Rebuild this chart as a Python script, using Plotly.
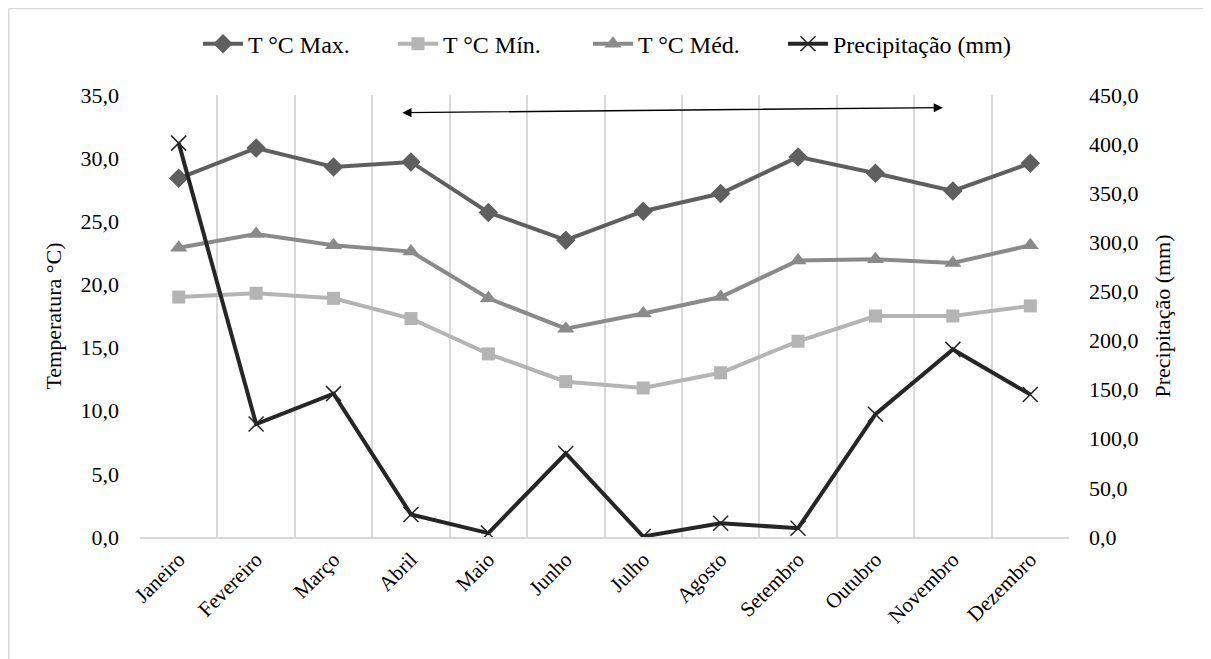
import plotly.graph_objects as go

meses = ["Janeiro", "Fevereiro", "Março", "Abril", "Maio", "Junho", "Julho",
         "Agosto", "Setembro", "Outubro", "Novembro", "Dezembro"]
t_max = [28.4, 30.8, 29.3, 29.7, 25.7, 23.5, 25.8, 27.2, 30.1, 28.8, 27.4, 29.6]
t_min = [19.0, 19.3, 18.9, 17.3, 14.5, 12.3, 11.8, 13.0, 15.5, 17.5, 17.5, 18.3]
t_med = [22.9, 24.0, 23.1, 22.6, 18.9, 16.5, 17.7, 19.0, 21.9, 22.0, 21.7, 23.1]
precip = [401.0, 115.0, 146.0, 23.0, 4.0, 85.0, 0.5, 14.0, 9.0, 125.0, 191.0, 145.0]

x = list(range(len(meses)))
font_family = "Liberation Serif, Times New Roman, serif"

W, H = 1203, 651
ML, MR, MT, MB = 132, 142, 87, 122
pw = W - ML - MR
ph = H - MT - MB

fig = go.Figure()
fig.add_trace(go.Scatter(x=x, y=t_max, name="T °C Max.", mode="lines+markers",
                         line=dict(color="#5f5f5f", width=4),
                         marker=dict(symbol="diamond", size=15, color="#5f5f5f")))
fig.add_trace(go.Scatter(x=x, y=t_min, name="T °C Mín.", mode="lines+markers",
                         line=dict(color="#b4b4b4", width=4),
                         marker=dict(symbol="square", size=13, color="#b4b4b4")))
fig.add_trace(go.Scatter(x=x, y=t_med, name="T °C Méd.", mode="lines+markers",
                         line=dict(color="#8a8a8a", width=4),
                         marker=dict(symbol="triangle-up", size=15, color="#8a8a8a")))
fig.add_trace(go.Scatter(x=x, y=precip, name="Precipitação (mm)", mode="lines+markers",
                         yaxis="y2", legend="legend2",
                         line=dict(color="#262626", width=4),
                         marker=dict(symbol="x-thin", size=15,
                                     line=dict(color="#262626", width=1.5))))

boundaries = [i - 0.5 for i in range(len(meses) + 1)]

legend_common = dict(orientation="h", yanchor="middle", y=1.115, xanchor="left",
                     font=dict(size=24), itemwidth=40, tracegroupgap=0,
                     bgcolor="rgba(0,0,0,0)")

fig.update_layout(
    width=W, height=H,
    margin=dict(l=ML, r=MR, t=MT, b=MB, autoexpand=False),
    paper_bgcolor="white", plot_bgcolor="white",
    separators=",.",
    font=dict(family=font_family, size=22, color="black"),
    showlegend=True,
    legend=dict(legend_common, x=(190 - ML) / pw, entrywidth=140,
                entrywidthmode="pixels"),
    legend2=dict(legend_common, x=(775 - ML) / pw),
    xaxis=dict(range=[-0.5, 11.5], tickmode="array", tickvals=x, ticktext=meses,
               tickangle=-45, showgrid=False, zeroline=False, automargin=False,
               showline=True, linecolor="#d9d9d9", linewidth=2,
               ticks="", tickfont=dict(size=21),
               minor=dict(tickmode="array", tickvals=boundaries, showgrid=True,
                          gridcolor="#d9d9d9", gridwidth=1.5, ticks="")),
    yaxis=dict(range=[0, 35], dtick=5, tick0=0, tickformat=".1f", automargin=False,
               showgrid=False, zeroline=False, showline=False, ticks="",
               ticklabelstandoff=20,
               title=dict(text="Temperatura °C)", standoff=12, font=dict(size=22))),
    yaxis2=dict(range=[0, 450], dtick=50, tick0=0, tickformat=".1f",
                overlaying="y", side="right", showgrid=False, zeroline=False,
                automargin=False,
                showline=False, ticks="", ticklabelstandoff=19,
                title=dict(text="Precipitação (mm)", standoff=17, font=dict(size=22))),
)

fig.add_annotation(x=9.87, y=34.0, ax=2.87, ay=33.6, xref="x", yref="y",
                   axref="x", ayref="y", text="", showarrow=True,
                   arrowhead=2, startarrowhead=2, arrowside="end+start",
                   arrowsize=1.3, startarrowsize=1.3, arrowwidth=1.4,
                   arrowcolor="black")

# outer chart border (top and left only visible)
top_y = (ph + MT - 0.5) / ph
left_x = (-ML + 0.8) / pw
fig.add_shape(type="line", xref="paper", yref="paper",
              x0=left_x, x1=(W - ML) / pw, y0=top_y, y1=top_y,
              line=dict(color="#d9d9d9", width=1.5))
fig.add_shape(type="line", xref="paper", yref="paper",
              x0=left_x, x1=left_x, y0=top_y, y1=-MB / ph,
              line=dict(color="#d9d9d9", width=1.5))

fig.write_html("out.html")
